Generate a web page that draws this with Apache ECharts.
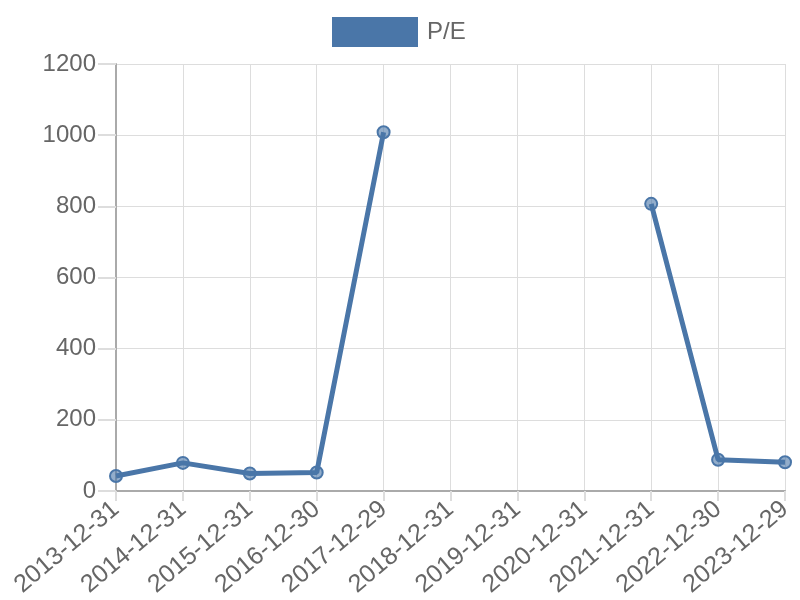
<!DOCTYPE html>
<html><head><meta charset="utf-8">
<script src="https://cdn.jsdelivr.net/npm/echarts@6/dist/echarts.min.js"></script>
<style>html,body{margin:0;padding:0;background:#fff}#c{width:800px;height:600px}</style>
</head><body><div id="c"></div>
<script>
const categories = ['2013-12-31','2014-12-31','2015-12-31','2016-12-30','2017-12-29','2018-12-31','2019-12-31','2020-12-31','2021-12-31','2022-12-30','2023-12-29'];
const peValues = [42, 79, 49, 52, 1008, null, null, null, 807, 88, 81];
const yTicks = {min: 0, max: 1200, interval: 200};

const chart = echarts.init(document.getElementById('c'));
const col = '#4a76a8';
const ff = 'Liberation Sans, Arial, sans-serif';
chart.setOption({
  animation: false,
  textStyle: {fontFamily: ff},
  legend: {
    top: 12, left: 327, itemWidth: 86, itemHeight: 30, icon: 'rect', itemGap: 10,
    itemStyle: {color: col, borderWidth: 0},
    textStyle: {fontSize: 24, color: '#666', fontFamily: ff, padding: [0, 0, 0, 4]},
    data: ['P/E']
  },
  grid: {left: 116, right: 15, top: 64, bottom: 109, containLabel: false},
  xAxis: {
    type: 'category', data: categories, boundaryGap: false,
    axisLine: {lineStyle: {color: '#aaa', width: 2}},
    axisTick: {show: true, length: 10, lineStyle: {color: '#ddd', width: 2}},
    axisLabel: {rotate: 40, fontSize: 25, color: '#666', margin: 15, interval: 0, fontFamily: ff},
    splitLine: {show: true, lineStyle: {color: '#ddd', width: 1}}
  },
  yAxis: {
    type: 'value', min: yTicks.min, max: yTicks.max, interval: yTicks.interval,
    axisLine: {show: true, lineStyle: {color: '#aaa', width: 2}},
    axisTick: {show: true, length: 18, lineStyle: {color: '#ddd', width: 2}},
    axisLabel: {fontSize: 24, color: '#666', margin: 20, fontFamily: ff, formatter: v => String(v)},
    splitLine: {show: true, lineStyle: {color: '#ddd', width: 1}}
  },
  series: [{
    name: 'P/E', type: 'line', data: peValues, connectNulls: false,
    symbol: 'circle', symbolSize: 12,
    lineStyle: {color: col, width: 5},
    itemStyle: {color: 'rgba(74,118,168,0.6)', borderColor: col, borderWidth: 2},
    emphasis: {disabled: true}
  }],
  color: [col]
});
</script></body></html>
